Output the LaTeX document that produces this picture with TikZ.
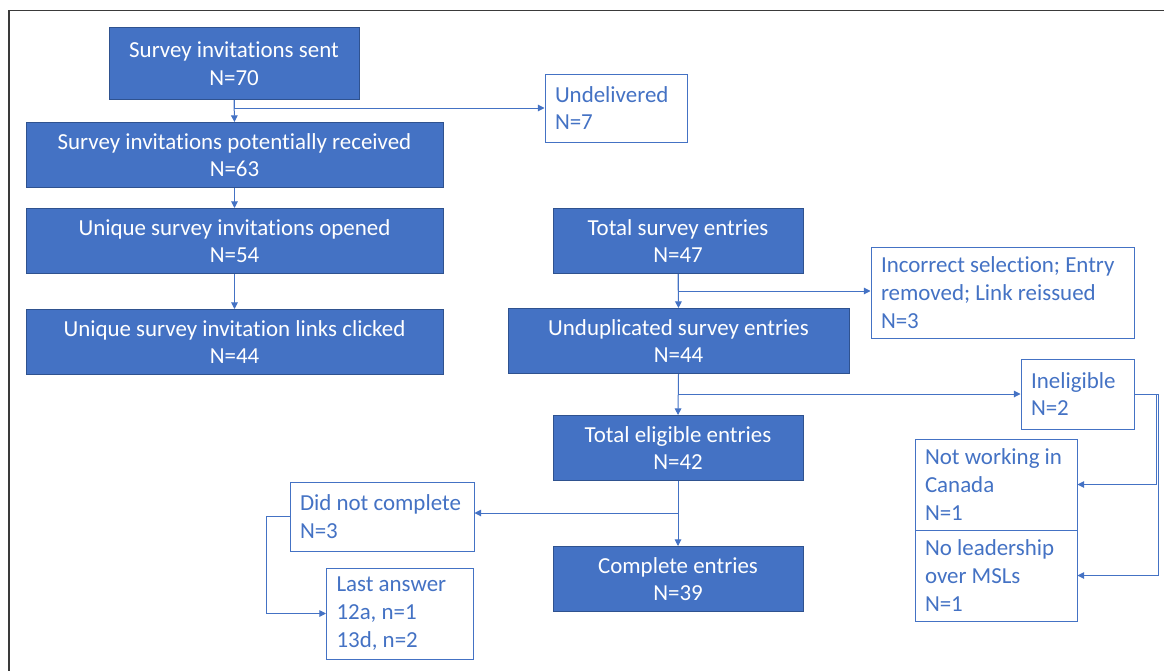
\documentclass[tikz,border=0pt]{standalone}
\usepackage{fontspec}
\setmainfont{Carlito}[Ligatures=NoCommon]
\usetikzlibrary{arrows.meta,calc}
\definecolor{ofblue}{HTML}{4472C4}
\definecolor{ofdark}{HTML}{2F528F}
\definecolor{framegray}{HTML}{3A3A3A}
\begin{document}
\begin{tikzpicture}[x=0.75pt,y=-0.75pt,
  every node/.style={font=\fontsize{17.2}{20.8}\selectfont, inner sep=0pt},
  fbox/.style 2 args={draw=ofdark, fill=ofblue, text=white, line width=0.75pt,
    minimum width=#1, minimum height=#2, align=center},
  obox/.style 2 args={draw=ofblue, text=ofblue, line width=0.75pt, fill=white,
    text width=#1, inner xsep=7.5pt, minimum height=#2, align=flush left},
  conn/.style={draw=ofblue, line width=0.75pt, -{Triangle[length=5pt,width=5pt]}}]
\useasboundingbox (0,0) rectangle (1164,671);
% frame
\draw[framegray, line width=1.2pt] (9,671) -- (9,10.5) -- (1164,10.5);
% left column
\node[fbox={187.5pt}{54pt}] (s1) at (234,63.5) {Survey invitations sent\\N=70};
\node[fbox={312.75pt}{48.75pt}] (s2) at (234.5,155) {Survey invitations potentially received\\N=63};
\node[fbox={312.75pt}{48.75pt}] (s3) at (234.5,241) {Unique survey invitations opened\\N=54};
\node[fbox={312.75pt}{48.75pt}] (s4) at (234.5,342) {Unique survey invitation links clicked\\N=44};
\node[obox={91.5pt}{51pt}] (und) at (616,108) {Undelivered\\N=7};
% right column
\node[fbox={187.5pt}{48.75pt}] (t1) at (678,241) {Total survey entries\\N=47};
\node[fbox={255.75pt}{48.75pt}] (t2) at (678.5,341) {Unduplicated survey entries\\N=44};
\node[fbox={187.5pt}{48.75pt}] (t3) at (678,448) {Total eligible entries\\N=42};
\node[fbox={187.5pt}{48.75pt}] (t4) at (678,579) {Complete entries\\N=39};
\node[obox={182.25pt}{68.25pt}] (inc) at (1002.5,292.5) {Incorrect selection; Entry\\removed; Link reissued\\N=3};
\node[obox={69.75pt}{52.5pt}] (inel) at (1077.5,394) {Ineligible\\N=2};
\node[obox={106.5pt}{68.25pt}] (nwc) at (996,484.5) {Not working in\\Canada\\N=1};
\node[obox={106.5pt}{68.25pt}] (nlm) at (996,575.5) {No leadership\\over MSLs\\N=1};
\node[obox={123pt}{51.75pt}] (dnc) at (382,516.5) {Did not complete\\N=3};
\node[obox={95.25pt}{68.25pt}] (last) at (400,613.5) {Last answer\\12a, n=1\\13d, n=2};
% connectors
\draw[conn] (s1.south) -- (s2.north);
\draw[conn] (s1.south) |- (und.west);
\draw[conn] (s2.south) -- (s3.north);
\draw[conn] (s3.south) -- (s4.north);
\draw[conn] (t1.south) -- (t2.north);
\draw[conn] (t1.south) |- ($(inc.west)+(0,-1.5)$);
\draw[conn] (t2.south) -- (t3.north);
\draw[conn] (t2.south) |- (inel.west);
\draw[conn] (t3.south) -- (t4.north);
\draw[conn] (t3.south) |- ($(dnc.east)+(0,-3.5)$);
\draw[conn] (dnc.west) -- ++(-23,0) |- (last.west);
\draw[conn] (inel.east) -- ++(22,0) |- (nwc.east);
\draw[conn] (inel.east) -- ++(23.5,0) |- (nlm.east);
\end{tikzpicture}
\end{document}
